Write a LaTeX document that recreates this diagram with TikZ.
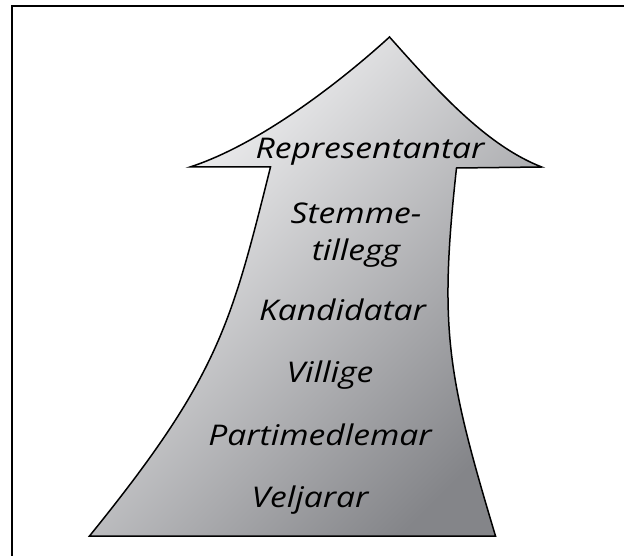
\documentclass[tikz,border=0pt]{standalone}
\usepackage{fontspec}
\newfontfamily\lblfont[FakeStretch=1.18]{Open Sans}
\begin{document}
\begin{tikzpicture}[x=1pt,y=-1pt,
  lbl/.style={anchor=base,inner sep=0pt,font=\lblfont\fontsize{28.5}{37}\selectfont\itshape,text=black},
  arrowshape/.style={draw=black,line width=1.5pt,line join=miter,
    top color={rgb,255:red,250;green,250;blue,251},
    middle color={rgb,255:red,214;green,215;blue,217},
    bottom color={rgb,255:red,132;green,133;blue,137},shading angle=45}]
\useasboundingbox (0,0) rectangle (624,556);
\fill[white] (0,0) rectangle (624,556);
% frame (only top and left edges visible)
\draw[line width=2.5pt] (12,570) -- (12,6) -- (640,6);
% arrow
\shade[arrowshape] (389.5,37)
  .. controls (338,84) and (258,145) .. (190,167)
  -- (270.5,167)
  .. controls (230.75,326) and (218.3,377) .. (89.5,536)
  -- (495.5,536)
  .. controls (447.2,375) and (438.8,329) .. (456.5,168)
  -- (541.7,167)
  .. controls (485,145) and (435,88) .. (389.5,37) -- cycle;
% labels
\node[lbl] (rep) at (370,159) {Representantar};
\node[lbl,align=center] (stem) at (356,261) {Stemme-\\tillegg};
\node[lbl] (kand) at (342.5,320) {Kandidatar};
\node[lbl] (vill) at (330,382) {Villige};
\node[lbl] (part) at (320,445) {Partimedlemar};
\node[lbl] (velj) at (310,507) {Veljarar};
\end{tikzpicture}
\end{document}
